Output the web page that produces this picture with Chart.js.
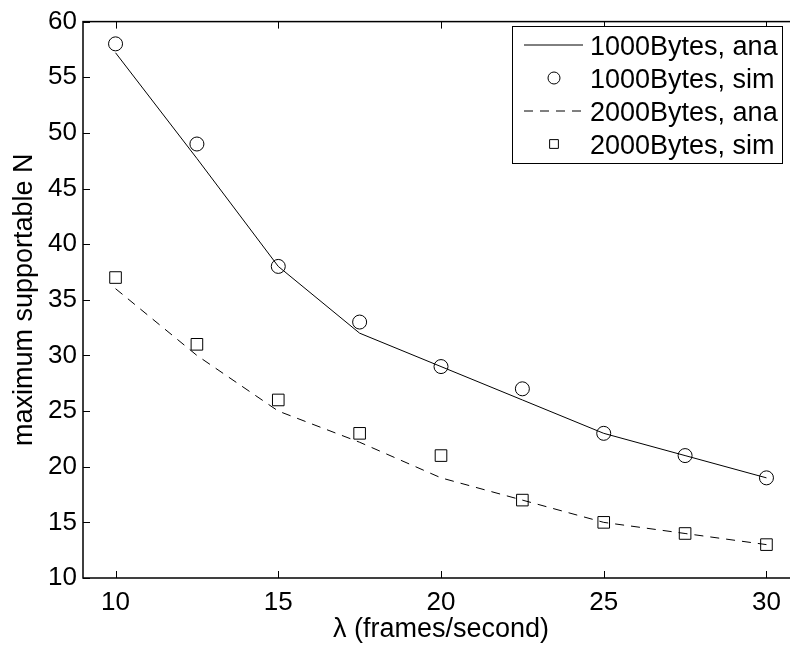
<!DOCTYPE html>
<html>
<head>
<meta charset="utf-8">
<script src="https://cdn.jsdelivr.net/npm/chart.js@4/dist/chart.umd.min.js"></script>
<style>
  html, body { margin: 0; padding: 0; background: #fff; overflow: hidden; }
  #wrap { width: 790px; height: 645px; overflow: hidden; }
</style>
</head>
<body>
<div id="wrap"><canvas id="chart" width="810" height="645"></canvas></div>
<script>
const lambdas = [10, 12.5, 15, 17.5, 20, 22.5, 25, 27.5, 30];
const ana1000 = [57.2, 47.7, 38, 32, 29, 26, 23, 21, 19];
const sim1000 = [58, 49, 38, 33, 29, 27, 23, 21, 19];
const ana2000 = [36, 30, 25, 22.2, 19, 17, 15, 14, 13];
const sim2000 = [37, 31, 26, 23, 21, 17, 15, 14, 13];
const xTicks = [10, 15, 20, 25, 30];
const yTicks = [10, 15, 20, 25, 30, 35, 40, 45, 50, 55, 60];
const seriesNames = ['1000Bytes, ana', '1000Bytes, sim', '2000Bytes, ana', '2000Bytes, sim'];

const FONT = 'Liberation Sans, Arial, Helvetica, sans-serif';
const pts = ys => lambdas.map((x, i) => ({ x: x, y: ys[i] }));

// box round the axes, inward tick marks, and the legend inside the plot
const frame = {
    id: 'frame',
    afterDraw(chart) {
        const { ctx, chartArea: a, scales } = chart;
        ctx.save();
        ctx.strokeStyle = '#000';
        ctx.lineWidth = 1.5;
        ctx.strokeRect(a.left, a.top, a.right - a.left, a.bottom - a.top);
        ctx.lineWidth = 1;
        const len = 7;
        ctx.beginPath();
        xTicks.forEach(v => {
            const x = Math.round(scales.x.getPixelForValue(v)) + 0.5;
            ctx.moveTo(x, a.bottom); ctx.lineTo(x, a.bottom - len);
            ctx.moveTo(x, a.top); ctx.lineTo(x, a.top + len);
        });
        yTicks.forEach(v => {
            const y = Math.round(scales.y.getPixelForValue(v)) + 0.5;
            ctx.moveTo(a.left, y); ctx.lineTo(a.left + len, y);
            ctx.moveTo(a.right, y); ctx.lineTo(a.right - len, y);
        });
        ctx.stroke();

        // legend
        const bx = 512, by = 26, bw = 270, bh = 137;
        ctx.fillStyle = '#fff';
        ctx.fillRect(bx, by, bw, bh);
        ctx.strokeRect(bx + 0.5, by + 0.5, bw, bh);
        ctx.font = '27px ' + FONT;
        ctx.textBaseline = 'alphabetic';
        chart.data.datasets.forEach((ds, i) => {
            const cy = 45 + i * 33;
            ctx.save();
            ctx.strokeStyle = '#000';
            ctx.fillStyle = 'rgba(0,0,0,0)';
            ctx.lineWidth = 1;
            if (ds.showLine) {
                ctx.setLineDash(ds.borderDash || []);
                ctx.beginPath();
                ctx.moveTo(524, cy); ctx.lineTo(583, cy);
                ctx.stroke();
            } else {
                Chart.helpers.drawPoint(ctx, { pointStyle: ds.pointStyle, radius: ds.pointStyle === 'rect' ? 6.2 : 6, borderWidth: 1 }, 554, cy);
            }
            ctx.restore();
            ctx.fillStyle = '#000';
            ctx.fillText(ds.label, 590, cy + 10);
        });
        ctx.restore();
    }
};

new Chart(document.getElementById('chart'), {
    type: 'scatter',
    data: {
        datasets: [
            { label: seriesNames[0], data: pts(ana1000), showLine: true, borderColor: '#000', borderWidth: 1, pointRadius: 0, tension: 0 },
            { label: seriesNames[1], data: pts(sim1000), showLine: false, pointStyle: 'circle', pointRadius: 7, borderColor: '#000', backgroundColor: 'rgba(0,0,0,0)', pointBorderWidth: 1 },
            { label: seriesNames[2], data: pts(ana2000), showLine: true, borderColor: '#000', borderWidth: 1, borderDash: [9, 7], pointRadius: 0, tension: 0 },
            { label: seriesNames[3], data: pts(sim2000), showLine: false, pointStyle: 'rect', pointRadius: 8.2, borderColor: '#000', backgroundColor: 'rgba(0,0,0,0)', pointBorderWidth: 1 }
        ]
    },
    options: {
        responsive: false,
        animation: false,
        layout: { padding: { left: 0, top: 14, right: 11, bottom: 0 } },
        plugins: { legend: { display: false }, tooltip: { enabled: false } },
        scales: {
            x: {
                type: 'linear', min: 9, max: 31,
                afterBuildTicks: s => { s.ticks = xTicks.map(v => ({ value: v })); },
                afterFit: s => { s.height = 67; },
                grid: { display: false, drawTicks: false },
                border: { display: false },
                ticks: { color: '#000', padding: 9, maxRotation: 0, font: { family: FONT, size: 26 } },
                title: { display: true, text: 'λ (frames/second)', color: '#000', padding: { top: 0, bottom: -1 }, font: { family: FONT, size: 27 } }
            },
            y: {
                type: 'linear', min: 10, max: 60,
                afterBuildTicks: s => { s.ticks = yTicks.map(v => ({ value: v })); },
                afterFit: s => { s.width = 83; },
                grid: { display: false, drawTicks: false },
                border: { display: false },
                ticks: { color: '#000', padding: 6, font: { family: FONT, size: 26 } },
                title: { display: true, text: 'maximum supportable N', color: '#000', padding: { top: 8, bottom: 0 }, font: { family: FONT, size: 27 } }
            }
        }
    },
    plugins: [frame]
});
</script>
</body>
</html>
